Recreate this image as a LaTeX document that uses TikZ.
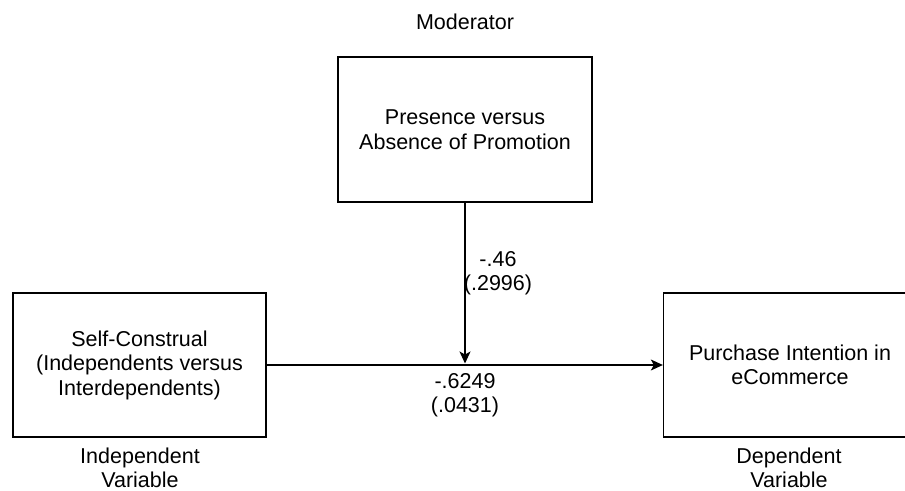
\documentclass[tikz,border=0pt]{standalone}
\usepackage{fontspec}
\setmainfont{Liberation Sans}
\usetikzlibrary{arrows.meta}

\tikzset{
  varbox/.style={draw=black, line width=1.3bp, minimum width=254bp, minimum height=145bp,
                 inner sep=0pt, align=center, font=\fontsize{21.5bp}{24.5bp}\selectfont},
  caption/.style={align=center, inner sep=0pt, font=\fontsize{21.5bp}{24.5bp}\selectfont},
  link/.style={line width=1.3bp, -{Stealth[length=12bp,width=11bp,inset=3bp]}}
}

\begin{document}
\begin{tikzpicture}[x=1bp,y=-1bp]
  \useasboundingbox (0,0) rectangle (905,491);
  \clip (0,0) rectangle (905,491);

  % variables
  \node[varbox] (mod) at (465,129.5) {Presence versus\\Absence of Promotion};
  \node[varbox, minimum width=253bp, minimum height=144bp] (iv) at (139.5,365)
    {Self-Construal\\(Independents versus\\Interdependents)};
  \node[varbox, minimum width=253bp, minimum height=144bp] (dv) at (790,365)
    {Purchase Intention in\\eCommerce};

  % role captions
  \node[caption] (modcap) at (465,22) {Moderator};
  \node[caption] (ivcap) at (140,468) {Independent\\Variable};
  \node[caption] (dvcap) at (789,468) {Dependent\\Variable};

  % paths
  \draw[link] (iv.east) -- (dv.west);
  \draw[link, shorten >=1.5bp] (mod.south) -- (mod.south |- iv.east);

  % coefficients
  \node[caption] (modcoef) at (498,273) {-.46\\(.2996)};
  \node[caption] (maincoef) at (465,395) {-.6249\\(.0431)};
\end{tikzpicture}
\end{document}
